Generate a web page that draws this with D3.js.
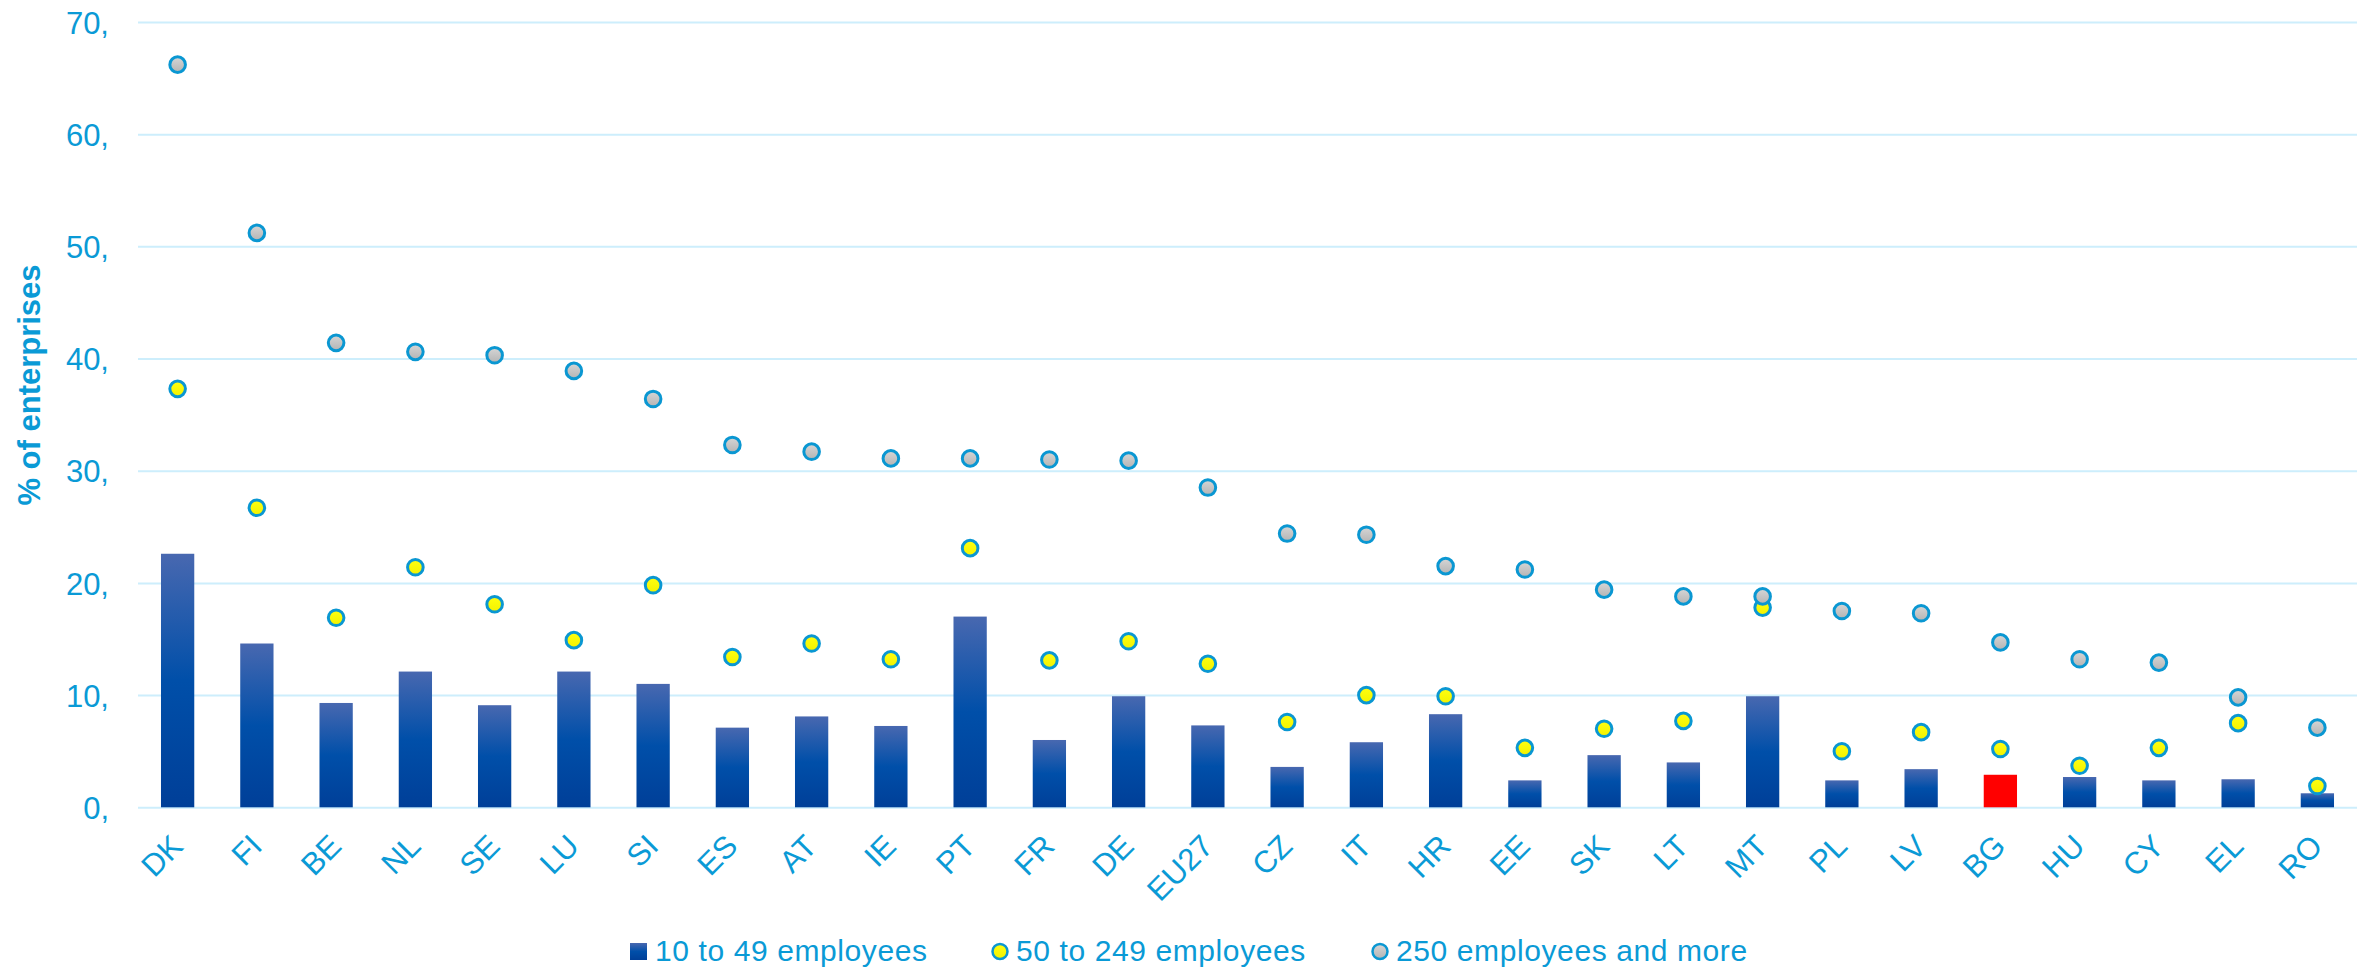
<!DOCTYPE html>
<html>
<head>
<meta charset="utf-8">
<script src="https://cdn.jsdelivr.net/npm/d3@7"></script>
<style>
  html, body { margin: 0; padding: 0; background: #ffffff; }
  svg { display: block; }
  text { font-family: "Liberation Sans", Arial, sans-serif; }
</style>
</head>
<body>
<svg id="chart" width="2369" height="970"></svg>
<script>
// ---- data ----
const categories = ["DK","FI","BE","NL","SE","LU","SI","ES","AT","IE","PT","FR","DE","EU27","CZ","IT","HR","EE","SK","LT","MT","PL","LV","BG","HU","CY","EL","RO"];
const small  = [22.6,14.6,9.3,12.1,9.1,12.1,11.0,7.1,8.1,7.25,17.0,6.0,9.9,7.3,3.6,5.8,8.3,2.4,4.65,4.0,9.9,2.4,3.4,2.9,2.7,2.4,2.5,1.25];
const medium = [37.3,26.7,16.9,21.4,18.1,14.9,19.8,13.4,14.6,13.2,23.1,13.1,14.8,12.8,7.6,10.0,9.9,5.3,7.0,7.7,17.8,5.0,6.7,5.2,3.7,5.3,7.5,1.9];
const large  = [66.2,51.2,41.4,40.6,40.3,38.9,36.4,32.3,31.7,31.1,31.1,31.0,30.9,28.5,24.4,24.3,21.5,21.2,19.4,18.8,18.8,17.5,17.3,14.7,13.2,12.9,9.8,7.1];
const yTicks = [0,10,20,30,40,50,60,70];
const yTickLabels = ["0,","10,","20,","30,","40,","50,","60,","70,"];
const seriesNames = ["10 to 49 employees","50 to 249 employees","250 employees and more"];
const highlight = "BG";
const yTitle = "% of enterprises";

// ---- layout ----
const TEXT = "#0a9ad6";
const GRID = "#cdeefc";
const STROKE = "#0a97d2";
const plot = {left: 138, right: 2357, top: 22, bottom: 807.3};

const svg = d3.select("#chart");
const defs = svg.append("defs");

const barGrad = defs.append("linearGradient").attr("id","barGrad").attr("x1",0).attr("y1",0).attr("x2",0).attr("y2",1);
barGrad.append("stop").attr("offset","0%").attr("stop-color","#4868b0");
barGrad.append("stop").attr("offset","50%").attr("stop-color","#004fa9");
barGrad.append("stop").attr("offset","100%").attr("stop-color","#003f98");

const grayGrad = defs.append("linearGradient").attr("id","grayGrad").attr("x1",0).attr("y1",0).attr("x2",0).attr("y2",1);
grayGrad.append("stop").attr("offset","0%").attr("stop-color","#d6d6d6");
grayGrad.append("stop").attr("offset","100%").attr("stop-color","#b4b4b4");

const yelGrad = defs.append("linearGradient").attr("id","yelGrad").attr("x1",0).attr("y1",0).attr("x2",0).attr("y2",1);
yelGrad.append("stop").attr("offset","0%").attr("stop-color","#ffff10");
yelGrad.append("stop").attr("offset","100%").attr("stop-color","#f2f200");

const x = d3.scaleBand().domain(categories).range([plot.left, plot.right]).padding(0);
const y = d3.scaleLinear().domain([0,70]).range([plot.bottom, plot.top]);
const bw = x.bandwidth() * 0.42;
const cx = c => x(c) + x.bandwidth()/2;

// gridlines
const yAxis = d3.axisLeft(y).tickValues(yTicks).tickSize(-(plot.right - plot.left))
  .tickFormat((d,i) => yTickLabels[i]).tickPadding(29);
const gy = svg.append("g").attr("transform", `translate(${plot.left},0)`).call(yAxis);
gy.select(".domain").remove();
gy.selectAll(".tick line").attr("stroke", GRID).attr("stroke-width", 2);
gy.selectAll(".tick text").attr("fill", TEXT).attr("font-size", 31).attr("dy","0.36em");

// bars
const data = categories.map((c,i) => ({c, s: small[i], m: medium[i], l: large[i]}));
svg.append("g").selectAll("rect").data(data).join("rect")
  .attr("x", d => cx(d.c) - bw/2)
  .attr("y", d => y(d.s))
  .attr("width", bw)
  .attr("height", d => y(0) - y(d.s))
  .attr("fill", d => d.c === highlight ? "#ff0000" : "url(#barGrad)");

// markers
const R = 7.8;
svg.append("g").selectAll("circle").data(data).join("circle")
  .attr("cx", d => cx(d.c)).attr("cy", d => y(d.m)).attr("r", R)
  .attr("fill", "url(#yelGrad)").attr("stroke", STROKE).attr("stroke-width", 3);
svg.append("g").selectAll("circle").data(data).join("circle")
  .attr("cx", d => cx(d.c)).attr("cy", d => y(d.l)).attr("r", R)
  .attr("fill", "url(#grayGrad)").attr("stroke", STROKE).attr("stroke-width", 3);

// x labels
svg.append("g").selectAll("text").data(categories).join("text")
  .attr("transform", d => `translate(${cx(d) + 7},848) rotate(-45)`)
  .attr("text-anchor", "end")
  .attr("fill", TEXT).attr("font-size", 31)
  .text(d => d);

// y title
svg.append("text")
  .attr("transform", "translate(40,385) rotate(-90)")
  .attr("text-anchor", "middle")
  .attr("fill", TEXT).attr("font-size", 31).attr("font-weight", "bold")
  .text(yTitle);

// legend
const lg = svg.append("g");
const legendX = [630, 991, 1371];
lg.append("rect").attr("x", legendX[0]).attr("y", 943).attr("width", 17).attr("height", 17).attr("fill", "url(#barGrad)");
lg.append("circle").attr("cx", legendX[1] + 9).attr("cy", 951.5).attr("r", 7.5)
  .attr("fill", "url(#yelGrad)").attr("stroke", STROKE).attr("stroke-width", 2.5);
lg.append("circle").attr("cx", legendX[2] + 9).attr("cy", 951.5).attr("r", 7.5)
  .attr("fill", "url(#grayGrad)").attr("stroke", STROKE).attr("stroke-width", 2.5);
lg.selectAll("text.leg").data(seriesNames).join("text").attr("class","leg")
  .attr("x", (d,i) => legendX[i] + 25)
  .attr("y", 961)
  .attr("fill", TEXT).attr("font-size", 30).attr("letter-spacing", "0.6px")
  .text(d => d);
</script>
</body>
</html>
